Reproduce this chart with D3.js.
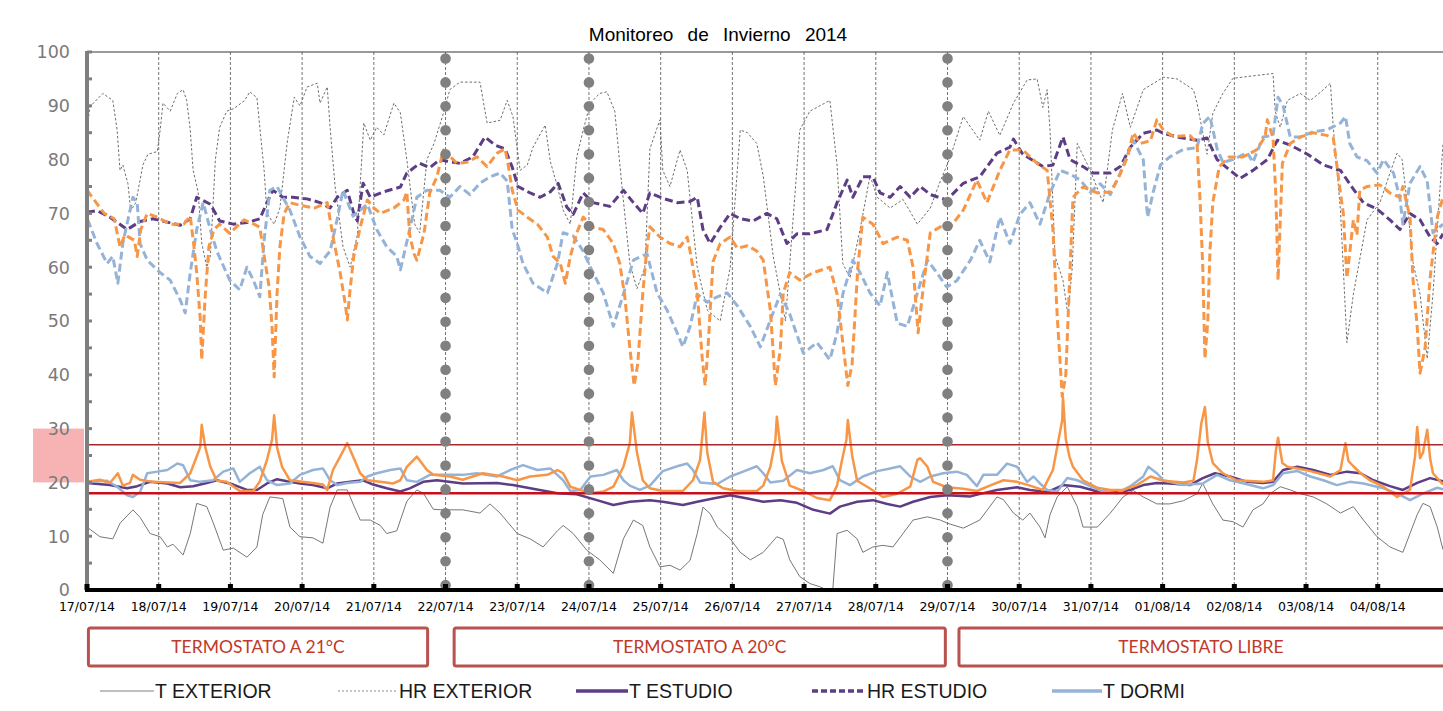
<!DOCTYPE html>
<html>
<head>
<meta charset="utf-8">
<script src="https://cdn.jsdelivr.net/npm/d3@7"></script>
<style>
  html, body { margin: 0; padding: 0; background: #fff; overflow: hidden; }
  svg { display: block; }
</style>
</head>
<body>
<svg id="chart" width="1443" height="711"></svg>
<script>
// ---------- DATA (x = days since 17/07/14 00:00, y = value) ----------
const dayLabels = ["17/07/14","18/07/14","19/07/14","20/07/14","21/07/14","22/07/14","23/07/14","24/07/14","25/07/14","26/07/14","27/07/14","28/07/14","29/07/14","30/07/14","31/07/14","01/08/14","02/08/14","03/08/14","04/08/14"];
const yTicks = [0,10,20,30,40,50,60,70,80,90,100];
const phaseDays = [5, 7, 12];
const limitLines = [18, 27];
const comfortBand = [20, 30];
const phaseLabels = ["TERMOSTATO A 21°C", "TERMOSTATO A 20°C", "TERMOSTATO LIBRE"];
const phaseBoxes = [[0.02, 4.75], [5.12, 11.97], [12.16, 19.5]];
const legendNames = ["T EXTERIOR", "HR EXTERIOR", "T ESTUDIO", "HR ESTUDIO", "T DORMI"];

const tExterior = [[0,11.7],[0.18,9.9],[0.36,9.5],[0.46,12.4],[0.64,14.9],[0.74,13.5],[0.88,10.5],[1.02,9.9],[1.12,8],[1.2,8.5],[1.34,6.5],[1.44,10.5],[1.53,16.1],[1.67,15.5],[1.76,12.5],[1.9,7.4],[2.04,7.8],[2.23,6.1],[2.37,8],[2.45,14],[2.55,17.3],[2.73,17],[2.83,11.7],[2.97,9.9],[3.15,9.7],[3.29,8.7],[3.39,15.4],[3.49,18.6],[3.63,18.6],[3.71,16],[3.81,13],[3.95,13],[4.09,12],[4.18,10.5],[4.32,11],[4.46,16.5],[4.6,18.6],[4.69,18],[4.83,15],[4.97,14.9],[5.24,14.9],[5.48,14.3],[5.62,16],[5.76,14.3],[6.0,10.5],[6.18,9.5],[6.36,8],[6.56,11],[6.64,12],[6.78,10.5],[6.97,7.4],[7.15,5.6],[7.34,3.1],[7.48,9.5],[7.62,13],[7.75,12],[7.85,8],[7.99,4.3],[8.13,4.6],[8.27,3.7],[8.41,5.5],[8.51,10.5],[8.59,15.4],[8.69,14.2],[8.79,11.7],[8.97,9.5],[9.11,7],[9.25,5.6],[9.43,7],[9.62,9.9],[9.71,9.4],[9.8,5.6],[9.94,2.5],[10.08,1.2],[10.22,0.6],[10.32,0],[10.4,0],[10.46,10.5],[10.6,11.1],[10.74,9.5],[10.82,7],[10.96,8],[11.1,8.3],[11.24,8],[11.38,10.5],[11.52,13],[11.72,13.6],[11.9,13],[12.0,12.4],[12.22,11.5],[12.45,13],[12.69,17.3],[12.78,16.8],[12.92,14.3],[13.05,13],[13.15,14.3],[13.29,11.7],[13.36,9.7],[13.43,14],[13.53,17.3],[13.67,19.2],[13.81,15.5],[13.89,11.7],[14.09,11.7],[14.27,14.3],[14.45,17.3],[14.59,18.5],[14.73,17.3],[14.92,16],[15.1,16],[15.29,16.6],[15.48,17.9],[15.56,19.8],[15.7,16],[15.84,13],[15.98,12.7],[16.12,11.7],[16.26,14.9],[16.4,16],[16.5,17.9],[16.64,19.2],[16.78,18.6],[16.92,17.9],[17.1,17.3],[17.29,16],[17.48,14.3],[17.66,15.5],[17.8,13],[17.99,9.9],[18.17,8],[18.35,7],[18.45,10.5],[18.55,14],[18.63,16.1],[18.73,15.5],[18.83,11.7],[18.91,7.5]];

const hrExterior = [[0,85.5],[0.04,89.8],[0.22,92.3],[0.36,91],[0.42,85.5],[0.46,78],[0.5,79],[0.57,75.6],[0.61,70.5],[0.68,72],[0.78,79],[0.85,81],[0.98,81.5],[1.02,85.5],[1.06,90.5],[1.16,89],[1.26,92.3],[1.34,93],[1.39,91],[1.44,85.5],[1.48,78],[1.55,74],[1.6,64.5],[1.67,60],[1.72,62],[1.79,80],[1.85,86],[1.95,89],[2.05,89.5],[2.2,91],[2.27,92.6],[2.37,91.5],[2.41,86],[2.47,78],[2.51,70],[2.61,68],[2.69,71],[2.79,83],[2.89,91.6],[2.97,90],[3.07,93.5],[3.21,94.2],[3.25,90.5],[3.35,93.5],[3.39,86],[3.46,75],[3.57,63.8],[3.67,60],[3.77,66],[3.86,86.8],[3.95,83.6],[4.04,86],[4.14,84.6],[4.28,90.5],[4.37,88.7],[4.46,80],[4.57,68],[4.64,66.4],[4.74,80],[4.84,83],[4.97,88.6],[5.06,93],[5.2,94.4],[5.48,94.4],[5.58,86.8],[5.76,87.3],[5.86,91],[5.94,88],[6.04,78],[6.14,79],[6.22,82.3],[6.39,86.4],[6.46,79.7],[6.56,75],[6.64,70.6],[6.74,68],[6.83,80.5],[6.92,85.5],[7.02,90.5],[7.15,92.3],[7.25,92.6],[7.36,89],[7.46,75],[7.57,60.7],[7.67,56],[7.78,60],[7.85,82],[7.99,87.4],[8.03,78],[8.13,75],[8.27,81.8],[8.37,78],[8.51,60],[8.65,52],[8.83,50],[8.97,60],[9.11,85.5],[9.21,85],[9.34,83],[9.43,77],[9.57,62],[9.74,50],[9.94,85.5],[10.08,89],[10.36,91],[10.46,79],[10.54,60.7],[10.64,58],[10.78,67],[10.92,77],[11.02,73],[11.2,71],[11.38,72.6],[11.58,68],[11.76,71],[11.9,76],[12.04,80.5],[12.22,88],[12.45,83.6],[12.57,89],[12.73,84.5],[12.92,90.5],[13.11,94.8],[13.25,95],[13.33,89.7],[13.39,93],[13.43,85.5],[13.5,62],[13.61,57.6],[13.68,51],[13.74,60],[13.81,83],[13.99,78],[14.17,72],[14.3,85.5],[14.44,92.3],[14.55,86],[14.73,93],[15.01,95.3],[15.2,95],[15.43,93],[15.48,90.5],[15.56,85],[15.62,81],[15.7,88.6],[15.84,92.3],[15.98,95.1],[16.22,95.5],[16.54,96],[16.57,89],[16.64,86],[16.74,91],[16.92,92.3],[17.06,91],[17.2,92.5],[17.34,94.2],[17.38,86],[17.48,70.6],[17.57,46],[17.66,55],[17.85,68.8],[18.03,72],[18.17,77.5],[18.27,81.2],[18.34,80],[18.41,72],[18.49,61],[18.59,55],[18.69,43],[18.77,55],[18.91,83]];

const tEstudio = [[0,19.9],[0.32,19.5],[0.56,18.9],[0.7,19.3],[0.88,20.1],[1.12,19.8],[1.3,19.1],[1.48,19.3],[1.67,19.9],[1.81,20.4],[2.04,19.6],[2.23,18.6],[2.37,18.6],[2.51,19.8],[2.65,20.6],[2.79,20.2],[2.97,19.8],[3.15,19.5],[3.35,18.9],[3.49,19.8],[3.67,20.1],[3.85,20.4],[3.99,19.6],[4.18,18.9],[4.37,18.3],[4.5,18.9],[4.69,20.1],[4.88,20.4],[5.24,19.8],[5.72,19.9],[5.94,19.5],[6.18,18.9],[6.56,18],[6.83,17.8],[7.11,16.7],[7.34,15.8],[7.57,16.4],[7.85,16.7],[8.03,16.4],[8.31,15.8],[8.51,16.4],[8.73,17],[8.97,17.6],[9.21,17],[9.43,16.4],[9.67,16.7],[9.9,16.2],[10.13,14.9],[10.36,14.2],[10.5,15.5],[10.74,16.4],[10.96,16.7],[11.16,16],[11.34,15.5],[11.52,16.4],[11.76,17.3],[11.99,17.6],[12.32,17.4],[12.5,18],[12.69,18.6],[12.97,19.1],[13.15,18.6],[13.39,18.2],[13.61,19.5],[13.85,19.2],[14.09,18.3],[14.37,18.2],[14.55,18.6],[14.73,19.5],[14.92,19.9],[15.1,19.8],[15.38,19.5],[15.56,20.8],[15.73,21.7],[15.94,21.1],[16.18,20.1],[16.4,19.9],[16.54,20.1],[16.68,22.3],[16.88,22.9],[17.1,22.3],[17.34,21.4],[17.57,22],[17.76,21.7],[17.94,20.4],[18.17,19.3],[18.35,18.6],[18.55,19.9],[18.73,20.8],[18.91,20.2]];

const hrEstudio = [[0,70.2],[0.14,70.5],[0.32,69.3],[0.56,67],[0.74,68.5],[0.92,69],[1.3,67.8],[1.44,69],[1.53,73],[1.72,71.7],[1.85,68.6],[2.04,68],[2.23,68.3],[2.41,69],[2.51,72],[2.59,74.3],[2.73,73],[2.87,73],[3.07,72.7],[3.25,72],[3.39,71],[3.49,73],[3.63,74.3],[3.72,70],[3.77,68.6],[3.85,75.6],[3.95,73],[4.13,74],[4.37,74.9],[4.46,77.5],[4.64,79.3],[4.78,78.5],[4.92,80],[5.02,79.7],[5.2,79.3],[5.38,80.5],[5.55,84.2],[5.69,82.7],[5.83,82],[5.93,78.6],[6.01,75],[6.18,73.8],[6.32,73],[6.46,74],[6.57,75.6],[6.69,71.2],[6.78,69.8],[6.92,73.8],[7.06,72],[7.29,71.3],[7.48,74.3],[7.62,72],[7.75,70],[7.85,73.8],[8.03,72.8],[8.23,72],[8.41,72.2],[8.51,73],[8.59,67],[8.69,64.4],[8.83,67.4],[8.97,70],[9.11,69],[9.29,68.6],[9.48,70],[9.62,69],[9.76,64.4],[9.9,66.2],[10.08,66.2],[10.32,67],[10.46,72],[10.6,76.2],[10.68,73],[10.82,76.8],[10.96,76.8],[11.06,73.8],[11.2,73],[11.34,75],[11.48,73],[11.62,75],[11.76,73.5],[11.99,72.5],[12.22,75.6],[12.45,76.8],[12.69,81.2],[12.87,82.3],[12.92,83.8],[13.05,81],[13.33,78.7],[13.47,79],[13.61,84.2],[13.71,80],[13.89,78.7],[14.03,77.5],[14.27,77.5],[14.41,78.7],[14.55,82.3],[14.73,84.9],[14.92,85.5],[15.01,84.9],[15.24,84.1],[15.48,83.6],[15.62,84],[15.76,80],[15.94,78],[16.08,76.5],[16.26,78],[16.46,80],[16.6,83.6],[16.78,82.7],[17.02,81],[17.24,79],[17.48,78],[17.66,74.5],[17.8,72],[17.99,70.8],[18.17,68.8],[18.31,67],[18.45,70],[18.59,68.8],[18.73,65.6],[18.83,64.4],[18.91,66.2]];

const tDormi = [[0,20.1],[0.28,20.3],[0.42,19.2],[0.56,17.6],[0.64,17.3],[0.74,18.2],[0.84,21.7],[0.98,22],[1.12,22.3],[1.26,23.5],[1.34,23.2],[1.44,20.4],[1.58,20.1],[1.76,20.4],[1.9,22],[2.04,22.6],[2.13,20.1],[2.27,21.7],[2.41,22.9],[2.51,20.4],[2.65,19.5],[2.83,19.8],[2.97,21.4],[3.15,22.3],[3.29,22.6],[3.39,20.4],[3.49,19.5],[3.63,19.9],[3.81,20.1],[3.91,21.1],[4.04,21.7],[4.23,22.3],[4.37,22.6],[4.46,20.4],[4.6,20.1],[4.78,21.4],[5.24,21.4],[5.44,21.7],[5.72,21.1],[5.9,22.3],[6.08,23.2],[6.28,22.3],[6.46,22.6],[6.64,20.4],[6.74,18.4],[6.88,18.6],[7.02,21.1],[7.2,21.4],[7.39,22.3],[7.48,20.4],[7.57,19.4],[7.71,18.6],[7.85,19.4],[8.03,22.1],[8.23,23],[8.37,23.5],[8.45,22.3],[8.55,20],[8.79,19.7],[8.97,21.1],[9.15,22],[9.34,23],[9.43,21.7],[9.53,20],[9.71,20.3],[9.9,22.3],[10.08,21.7],[10.27,22.3],[10.4,23],[10.5,20.4],[10.64,19.5],[10.82,21.1],[11.02,22.1],[11.2,22.6],[11.34,23],[11.48,21.1],[11.62,20.1],[11.76,21.1],[11.94,21.7],[12.13,22],[12.27,21.4],[12.41,19.3],[12.5,21.4],[12.69,21.4],[12.83,23.5],[12.97,22.9],[13.11,20.1],[13.2,21.1],[13.29,19.8],[13.39,18.6],[13.53,18.3],[13.67,20.8],[13.81,20.4],[13.99,19.3],[14.17,18.3],[14.37,18],[14.55,19.3],[14.73,21.1],[14.8,22.9],[14.92,21.7],[15.01,20.4],[15.29,19.5],[15.56,19.8],[15.76,21.4],[15.94,20.4],[16.22,19.5],[16.4,18.9],[16.54,19.5],[16.68,21.7],[16.88,22.1],[17.06,21.1],[17.24,20.4],[17.43,19.5],[17.61,20.1],[17.8,19.8],[18.08,18.9],[18.31,17.7],[18.45,16.7],[18.63,17.9],[18.83,19],[18.91,18.7]];

const hrDormi = [[0.01,68.8],[0.14,64.4],[0.28,60.7],[0.36,62],[0.43,57],[0.5,64.5],[0.64,73],[0.7,72],[0.74,64.4],[0.84,61.3],[1.02,59],[1.16,57.6],[1.3,53.9],[1.37,51.5],[1.44,59],[1.53,67],[1.62,72],[1.72,67],[1.81,63],[1.99,57.6],[2.13,55.8],[2.23,60],[2.32,57.6],[2.41,54.5],[2.47,65],[2.55,74.3],[2.65,75],[2.83,70.6],[2.97,65.6],[3.11,62],[3.25,60.7],[3.39,63],[3.49,69],[3.57,74.3],[3.71,69.5],[3.91,71.7],[4.04,67],[4.18,63.8],[4.32,62],[4.37,59.5],[4.5,67],[4.6,73],[4.74,74.3],[4.92,74.3],[5.06,73],[5.2,75],[5.34,73.5],[5.48,75.6],[5.62,76.8],[5.76,77.5],[5.86,76],[5.93,67],[6.0,64.4],[6.08,60.7],[6.22,57],[6.42,55.2],[6.56,60.7],[6.64,66.4],[6.78,65.8],[6.92,63],[7.02,60],[7.2,55.2],[7.34,49],[7.48,55],[7.62,61.3],[7.81,62.5],[7.95,55.2],[8.09,52],[8.23,47.8],[8.31,45.2],[8.41,49],[8.51,55],[8.65,53.5],[8.79,54.5],[8.93,55.2],[9.07,52.8],[9.25,49],[9.39,45.2],[9.53,50.2],[9.67,55],[9.8,51.3],[9.99,44],[10.18,46],[10.36,42.8],[10.46,47.8],[10.54,55],[10.68,61.3],[10.78,59],[10.92,55.2],[11.06,52.8],[11.16,59],[11.3,49.6],[11.44,49],[11.58,55.2],[11.72,61.3],[11.85,59],[11.99,56.3],[12.13,57.5],[12.32,61.3],[12.45,65],[12.59,61],[12.73,69.3],[12.87,64.4],[13.01,69.8],[13.15,72],[13.29,68],[13.43,73.8],[13.57,78],[13.71,77.3],[13.85,76.2],[13.99,74],[14.13,75.5],[14.27,73.5],[14.41,77.5],[14.59,83.6],[14.73,80],[14.79,69.3],[14.87,74],[14.97,79],[15.1,80.5],[15.29,81.9],[15.48,82.2],[15.56,86.7],[15.66,88],[15.76,82],[15.84,79.5],[15.98,80],[16.18,81.3],[16.26,79.5],[16.4,84.2],[16.54,84.5],[16.61,91.6],[16.68,90],[16.78,84.2],[16.92,84.2],[17.1,85.2],[17.29,85.5],[17.48,86.8],[17.55,88],[17.61,83],[17.71,80.5],[17.85,79.8],[17.99,77.5],[18.08,80],[18.22,77.5],[18.31,72.8],[18.35,68],[18.45,75.6],[18.59,78.7],[18.69,76],[18.77,66.4],[18.91,68]];

const tSalon = [[0,20.1],[0.18,20.5],[0.32,19.9],[0.43,21.7],[0.5,19.4],[0.6,19.9],[0.64,21.4],[0.74,20.5],[0.92,20.1],[1.3,19.9],[1.44,21.7],[1.53,24.8],[1.58,26.6],[1.6,30.7],[1.65,26.5],[1.72,22.9],[1.81,20.3],[1.95,20.1],[2.13,18.4],[2.32,18.4],[2.41,20.2],[2.51,24.2],[2.58,27.9],[2.61,32.5],[2.65,26.5],[2.72,22.9],[2.83,20.4],[3.15,19.9],[3.29,19.6],[3.35,18.6],[3.43,22.3],[3.53,24.8],[3.63,27.3],[3.71,24.8],[3.81,21.7],[3.91,20.4],[4.09,20.1],[4.27,19.8],[4.37,20.4],[4.46,22.9],[4.6,24.8],[4.74,22.3],[4.83,21.4],[5.06,21.1],[5.24,20.5],[5.52,21.7],[5.8,21.1],[6.0,20.4],[6.18,21.1],[6.42,21.4],[6.56,22.3],[6.64,21.7],[6.74,19.2],[6.88,18.6],[7.02,18],[7.2,18.3],[7.34,19.2],[7.48,22.9],[7.57,27.3],[7.6,33],[7.67,25.5],[7.75,20.4],[7.85,18.9],[8.03,18.4],[8.31,18.4],[8.45,20.4],[8.55,24.2],[8.61,33],[8.65,25.5],[8.73,20.1],[8.87,18.9],[9.07,18.4],[9.34,18.4],[9.43,19.4],[9.53,22.9],[9.6,27.9],[9.62,32.2],[9.69,24],[9.8,19.4],[9.99,18.4],[10.18,17.1],[10.36,16.7],[10.46,19.4],[10.53,24.2],[10.59,27.9],[10.61,31.6],[10.67,25],[10.74,20.3],[10.88,19.2],[11.1,17.3],[11.3,17.9],[11.48,19.2],[11.58,24.2],[11.62,24.5],[11.72,22.9],[11.8,20.1],[11.99,19.1],[12.22,18.8],[12.41,18.4],[12.59,19.4],[12.78,20.4],[12.97,20.1],[13.15,19.4],[13.33,18.6],[13.47,22.3],[13.54,27.3],[13.6,31.6],[13.61,35.9],[13.65,28],[13.7,24.8],[13.75,22.9],[13.89,20.4],[14.09,19],[14.27,18.6],[14.45,18.6],[14.64,19.5],[14.83,21.1],[15.01,20.3],[15.29,20],[15.43,20.3],[15.48,24.2],[15.54,31],[15.59,34],[15.63,27.5],[15.7,23.6],[15.84,21.7],[16.03,20.4],[16.4,20.1],[16.54,20.4],[16.58,26],[16.61,28.3],[16.67,23.6],[16.74,22.9],[16.88,22.6],[17.06,22.1],[17.34,21.1],[17.48,22.3],[17.55,27.3],[17.59,24],[17.66,23],[17.76,21.7],[17.89,20.4],[18.08,19.2],[18.27,17.3],[18.45,18.6],[18.52,24.8],[18.55,30.3],[18.59,24.5],[18.63,25.5],[18.69,29.8],[18.73,24.5],[18.77,21.7],[18.91,19.6]];

const hrSalon = [[0,74.3],[0.1,72.5],[0.24,70],[0.38,69],[0.46,63.8],[0.53,66],[0.66,65],[0.7,62],[0.75,67],[0.84,70],[0.98,69.3],[1.16,68],[1.35,68],[1.44,69.5],[1.49,64],[1.53,59],[1.58,50.2],[1.6,42.8],[1.65,55],[1.7,63.8],[1.77,67],[1.85,68],[1.99,66.3],[2.19,68.8],[2.33,68],[2.41,67.4],[2.48,61.3],[2.54,56.3],[2.58,49],[2.61,39.6],[2.65,55],[2.69,63.8],[2.75,70],[2.83,72],[2.97,71.5],[3.17,71],[3.35,72],[3.44,65],[3.53,59],[3.6,53.3],[3.63,50.2],[3.67,56],[3.72,62],[3.81,67.4],[3.91,72.5],[4.0,71],[4.09,70],[4.28,71],[4.42,72.5],[4.46,74],[4.5,66],[4.56,62.5],[4.6,61.3],[4.7,66.3],[4.78,73.8],[4.88,76.8],[4.97,81.8],[5.16,79.3],[5.3,79.5],[5.44,80.5],[5.58,78.7],[5.72,81.2],[5.83,82],[5.87,79.3],[5.93,74.3],[6.01,70.6],[6.14,69.3],[6.28,68],[6.42,65.6],[6.5,62],[6.6,60.7],[6.67,57],[6.74,62],[6.83,66.4],[6.92,69.3],[7.06,67.4],[7.2,67],[7.34,64.4],[7.43,60.7],[7.5,54.5],[7.57,45],[7.63,38],[7.68,42],[7.75,55],[7.81,63.8],[7.85,67.5],[7.99,65.6],[8.13,64.4],[8.27,63.8],[8.37,65.6],[8.41,63],[8.51,55.2],[8.58,43],[8.62,38],[8.66,45],[8.73,61],[8.83,64.4],[8.97,65.6],[9.07,63.5],[9.21,64],[9.34,63],[9.43,61.3],[9.53,52],[9.6,38],[9.67,45],[9.71,55.2],[9.8,59],[9.94,57.6],[10.13,59],[10.36,60],[10.46,55],[10.54,46],[10.61,38],[10.67,42],[10.75,60],[10.82,69.3],[10.96,68],[11.1,64.4],[11.3,65.6],[11.44,65],[11.52,60],[11.59,47.8],[11.66,56],[11.76,66.4],[11.9,67.5],[12.04,67.5],[12.22,70.6],[12.41,76.2],[12.55,72],[12.73,78],[12.87,81.8],[13.05,81.8],[13.25,79.3],[13.39,78],[13.47,67],[13.53,51],[13.6,36],[13.65,40],[13.71,60],[13.75,73],[13.89,74.9],[14.09,73.8],[14.27,74],[14.37,76.2],[14.51,80.5],[14.59,85],[14.69,83],[14.83,83.5],[14.92,87.4],[15.01,85.5],[15.15,84.3],[15.38,84.5],[15.48,83],[15.52,73],[15.56,60],[15.59,43],[15.63,50],[15.66,63],[15.7,72],[15.79,78.7],[15.93,80.5],[16.12,80.5],[16.31,81.8],[16.43,84.3],[16.46,87.4],[16.54,84],[16.58,73],[16.61,57.6],[16.67,79.3],[16.78,83],[16.92,84.2],[17.1,85],[17.29,84.5],[17.38,84],[17.48,73.8],[17.52,70],[17.57,58],[17.66,68.8],[17.71,66],[17.75,74.3],[17.85,75],[18.03,75.3],[18.17,73.8],[18.31,73],[18.35,75],[18.45,69.3],[18.49,58],[18.55,49],[18.59,40.3],[18.66,45],[18.73,58],[18.83,69.3],[18.91,73]];

// ---------- STYLES ----------
const C_GRAY = "#7f7f7f", C_PURPLE = "#5d3d84", C_BLUE = "#95b3d7", C_ORANGE = "#f79646";
const seriesDefs = [
  {data: tExterior,  color: "#777777", width: 1,   dash: null},
  {data: hrExterior, color: "#6e6e6e", width: 1,   dash: "2.5,2"},
  {data: hrEstudio,  color: C_PURPLE,  width: 3,   dash: "8,4"},
  {data: hrDormi,    color: C_BLUE,    width: 3,   dash: "8,4"},
  {data: hrSalon,    color: C_ORANGE,  width: 3,   dash: "8,4"},
  {data: tEstudio,   color: C_PURPLE,  width: 2.5, dash: null},
  {data: tDormi,     color: C_BLUE,    width: 2.5, dash: null},
  {data: tSalon,     color: C_ORANGE,  width: 2.5, dash: null}
];
const legendDefs = [
  {color: "#808080", width: 1.2, dash: null},
  {color: "#8a8a8a", width: 1.2, dash: "2,2"},
  {color: C_PURPLE, width: 3.5, dash: null},
  {color: C_PURPLE, width: 3.5, dash: "6,3"},
  {color: C_BLUE, width: 3.5, dash: null}
];

// ---------- SCALES ----------
const svg = d3.select("#chart");
const pLeft = 87, pRight = 1443, pTop = 52, pBottom = 590;
const x = d3.scaleLinear().domain([0, 18.91]).range([pLeft, pRight]);
const y = d3.scaleLinear().domain([0, 100]).range([pBottom, pTop]);

svg.append("defs").append("clipPath").attr("id", "plotclip")
  .append("rect").attr("x", pLeft).attr("y", pTop - 2).attr("width", pRight - pLeft).attr("height", pBottom - pTop + 2);

// Title
svg.append("text").attr("x", 718).attr("y", 41).attr("text-anchor", "middle")
  .style("font-family", "'Liberation Sans', Arial, sans-serif").style("font-size", "19px")
  .style("word-spacing", "9px").attr("fill", "#000").text("Monitoreo de Invierno 2014");

// Comfort band (left of axis)
svg.append("rect").attr("x", 33).attr("width", 51)
  .attr("y", y(comfortBand[1])).attr("height", y(comfortBand[0]) - y(comfortBand[1]))
  .attr("fill", "#f7b3b3");

// Top border
svg.append("line").attr("x1", pLeft).attr("x2", pRight).attr("y1", pTop).attr("y2", pTop)
  .attr("stroke", "#9a9a9a").attr("stroke-width", 2);

// Vertical day gridlines
const days = d3.range(1, dayLabels.length);
svg.append("g").selectAll("line").data(days).join("line")
  .attr("x1", d => x(d)).attr("x2", d => x(d)).attr("y1", pTop).attr("y2", pBottom)
  .attr("stroke", "#505050").attr("stroke-width", 0.8).attr("stroke-dasharray", "3,2");

// Series
const line = d3.line().x(d => x(d[0])).y(d => y(d[1]));
const gSeries = svg.append("g").attr("clip-path", "url(#plotclip)");
seriesDefs.forEach(s => {
  gSeries.append("path").datum(s.data).attr("d", line)
    .attr("fill", "none").attr("stroke", s.color).attr("stroke-width", s.width)
    .attr("stroke-linejoin", "round")
    .attr("stroke-dasharray", s.dash);
});

// Limit lines
svg.append("line").attr("x1", pLeft).attr("x2", pRight).attr("y1", y(limitLines[1])).attr("y2", y(limitLines[1]))
  .attr("stroke", "#a8282a").attr("stroke-width", 1.5);
svg.append("line").attr("x1", pLeft).attr("x2", pRight).attr("y1", y(limitLines[0])).attr("y2", y(limitLines[0]))
  .attr("stroke", "#c8101a").attr("stroke-width", 2.5);

// Phase separators (big gray dots)
const dotVals = d3.range(98.8, -0.1, -4.45);
phaseDays.forEach(pd => {
  svg.append("g").selectAll("circle").data(dotVals).join("circle")
    .attr("cx", x(pd)).attr("cy", v => y(v)).attr("r", 5.3).attr("fill", "#808080");
});

// Left axis
svg.append("line").attr("x1", pLeft).attr("x2", pLeft).attr("y1", pTop - 1).attr("y2", pBottom)
  .attr("stroke", C_GRAY).attr("stroke-width", 4);
svg.append("g").selectAll("line").data(d3.range(0, 101, 5)).join("line")
  .attr("x1", pLeft).attr("x2", pLeft + 5).attr("y1", d => y(d)).attr("y2", d => y(d))
  .attr("stroke", C_GRAY).attr("stroke-width", 3);
svg.append("g").selectAll("text").data(yTicks).join("text")
  .attr("x", 70).attr("y", d => y(d)).attr("dy", "0.36em").attr("text-anchor", "end")
  .style("font-family", "'DejaVu Sans', Verdana, sans-serif").style("font-size", "17.5px")
  .attr("fill", "#7a7a7a").text(d => d);

// Bottom axis
svg.append("line").attr("x1", pLeft - 2).attr("x2", pRight).attr("y1", pBottom).attr("y2", pBottom)
  .attr("stroke", "#000").attr("stroke-width", 4);
svg.append("g").selectAll("rect").data(d3.range(0, dayLabels.length)).join("rect")
  .attr("x", d => x(d) - 2.5).attr("y", pBottom - 6).attr("width", 5).attr("height", 6).attr("fill", "#000");
svg.append("g").selectAll("text").data(dayLabels).join("text")
  .attr("x", (d, i) => x(i)).attr("y", 611).attr("text-anchor", "middle")
  .style("font-family", "'DejaVu Sans', Verdana, sans-serif").style("font-size", "12.5px")
  .attr("fill", "#000").text(d => d);

// Phase boxes
const boxY = 628, boxH = 38;
phaseBoxes.forEach((b, i) => {
  const x0 = x(b[0]), x1 = x(b[1]);
  svg.append("rect").attr("x", x0).attr("y", boxY).attr("width", x1 - x0).attr("height", boxH)
    .attr("rx", 2).attr("fill", "#fff").attr("stroke", "#b9534f").attr("stroke-width", 3);
  const cx = i === 2 ? x(b[0]) + 242 : (x0 + x1) / 2;
  svg.append("text").attr("x", cx).attr("y", boxY + boxH / 2).attr("dy", "0.36em")
    .attr("text-anchor", "middle")
    .style("font-family", "Lato, 'Open Sans', sans-serif").style("font-size", "17.5px")
    .attr("fill", "#c0392b").text(phaseLabels[i]);
});

// Legend
const legendX = [100, 338, 576, 812, 1052];
const legendLen = [54, 60, 52, 54, 50];
const legY = 691;
legendNames.forEach((n, i) => {
  const L = legendDefs[i];
  svg.append("line").attr("x1", legendX[i]).attr("x2", legendX[i] + legendLen[i])
    .attr("y1", legY).attr("y2", legY)
    .attr("stroke", L.color).attr("stroke-width", L.width).attr("stroke-dasharray", L.dash);
  svg.append("text").attr("x", legendX[i] + legendLen[i] + 1).attr("y", legY).attr("dy", "0.36em")
    .style("font-family", "'Liberation Sans', Arial, sans-serif")
    .style("font-size", "19.5px").attr("fill", "#1a1a1a").text(n);
});
</script>
</body>
</html>
